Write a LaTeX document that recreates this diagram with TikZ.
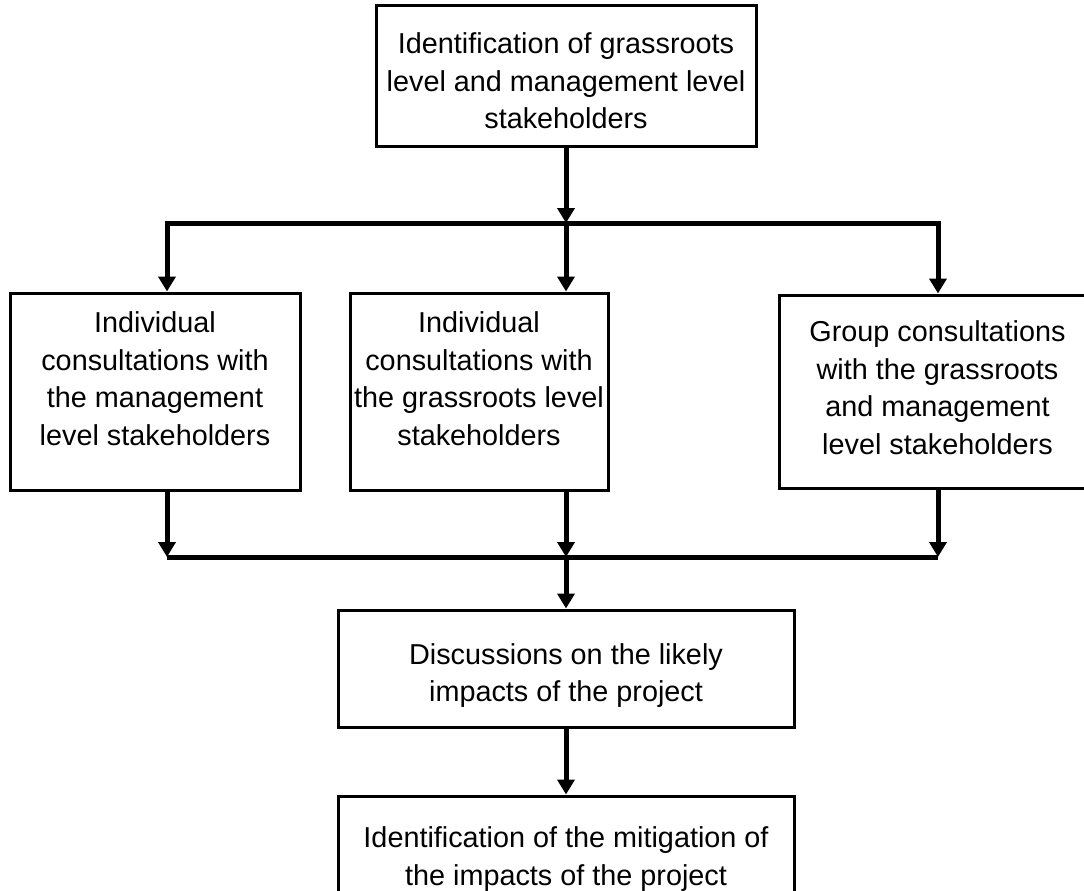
\documentclass[tikz,border=0pt]{standalone}
\usepackage{fontspec}
\setmainfont{Liberation Sans}
\usetikzlibrary{arrows.meta}
\begin{document}
\begin{tikzpicture}[x=1pt,y=-1pt,
  box/.style={draw=black, line width=3pt, rectangle, inner sep=0pt},
  txt/.style={align=center, inner sep=0pt, font=\fontsize{28.8}{37.5}\selectfont},
  arr/.style={line width=5pt, -{Triangle[width=17pt,length=15pt]}},
  conn/.style={line width=5pt}]
\useasboundingbox (0,0) rectangle (1084,891);
\node[box, minimum width=380pt, minimum height=140pt] (top) at (566,76) {};
\node[txt] (topt) at ([yshift=-5pt]top.center)
  {Identification of grassroots\\level and management level\\stakeholders};
\node[box, minimum width=290pt, minimum height=197pt] (left) at (155,391.5) {};
\node[txt] (leftt) at ([yshift=13pt]left.center)
  {Individual\\consultations with\\the management\\level stakeholders};
\node[box, minimum width=258pt, minimum height=197pt] (mid) at (479,391.5) {};
\node[txt] (midt) at ([yshift=13pt]mid.center)
  {Individual\\consultations with\\the grassroots level\\stakeholders};
\node[box, minimum width=317pt, minimum height=193pt] (right) at (937.5,391.5) {};
\node[txt] (rightt) at ([yshift=4pt]right.center)
  {Group consultations\\with the grassroots\\and management\\level stakeholders};
\node[box, minimum width=456pt, minimum height=117pt] (disc) at (566,668.5) {};
\node[txt] (disct) at ([yshift=-7pt]disc.center)
  {Discussions on the likely\\impacts of the project};
\node[box, minimum width=456pt, minimum height=126pt] (mit) at (566,859) {};
\node[txt] (mitt) at ([yshift=0pt]mit.center)
  {Identification of the mitigation of\\the impacts of the project};
\coordinate (j1) at (566,223);
\coordinate (jl) at (167,223);
\coordinate (jr) at (938,223);
\coordinate (k1) at (566,557);
\coordinate (kl) at (167,557);
\coordinate (kr) at (938,557);
\draw[arr] (top.south) -- (j1);
\draw[conn] ([xshift=-2.5pt]jl) -- ([xshift=2.5pt]jr);
\draw[arr] ([yshift=-2.5pt]jl) -- (jl |- left.north);
\draw[arr] (j1) -- (j1 |- mid.north);
\draw[arr] ([yshift=-2.5pt]jr) -- (jr |- right.north);
\draw[arr] (left.south -| kl) -- (kl);
\draw[arr] (mid.south -| k1) -- (k1);
\draw[arr] (right.south -| kr) -- (kr);
\draw[conn] (kl) -- (kr);
\draw[arr] (k1) -- (disc.north);
\draw[arr] (disc.south) -- (mit.north);
\end{tikzpicture}
\end{document}
